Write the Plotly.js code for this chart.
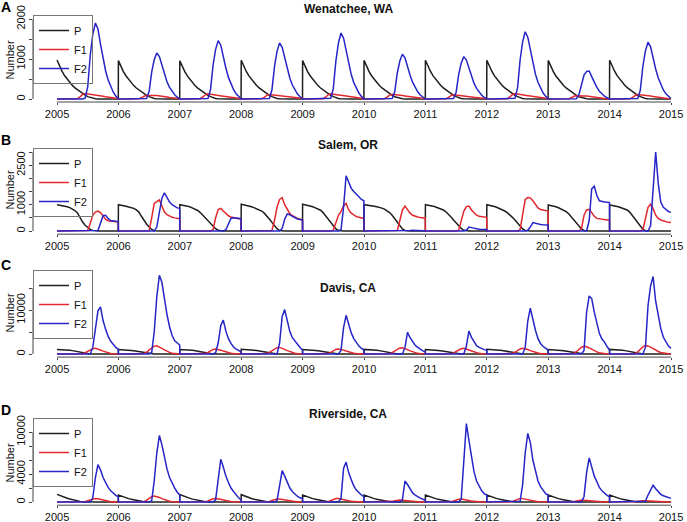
<!DOCTYPE html>
<html><head><meta charset="utf-8">
<script src="https://cdn.plot.ly/plotly-3.0.1.min.js"></script>
<style>html,body{margin:0;padding:0;background:#fff}#chart{width:687px;height:522px}</style>
</head><body><div id="chart"></div>
<script>
// ---- sampling grid (fraction of each year) ----
const years = [2005,2006,2007,2008,2009,2010,2011,2012,2013,2014];
const yearFrac = [0,0.042,0.083,0.125,0.167,0.208,0.25,0.292,0.333,0.375,0.417,0.458,0.5,0.542,0.583,0.625,0.667,0.708,0.75,0.792,0.833,0.875,0.917,0.958,0.998];
const xTickYears = [2005,2006,2007,2008,2009,2010,2011,2012,2013,2014,2015];
const seriesNames = ['P','F1','F2'];
const panelTitles = ['Wenatchee, WA','Salem, OR','Davis, CA','Riverside, CA'];
const panelLetters = ['A','B','C','D'];
const yLabel = 'Number';

// ---- Wenatchee, WA ----
const wenP = [
[975,820,690,580,490,410,340,280,230,180,135,95,60,35,15,5,0,0,0,0,0,0,0,0,0],
[960,810,680,575,485,405,335,275,225,178,133,93,58,33,14,5,0,0,0,0,0,0,0,0,0],
[955,805,678,572,482,402,333,273,223,176,132,92,58,33,14,5,0,0,0,0,0,0,0,0,0],
[970,815,688,578,488,408,338,278,228,180,134,94,59,34,15,5,0,0,0,0,0,0,0,0,0],
[960,810,680,575,485,405,335,275,225,178,133,93,58,33,14,5,0,0,0,0,0,0,0,0,0],
[965,812,684,576,486,406,336,276,226,179,134,93,58,34,14,5,0,0,0,0,0,0,0,0,0],
[970,815,688,578,488,408,338,278,228,180,134,94,59,34,15,5,0,0,0,0,0,0,0,0,0],
[970,815,688,578,488,408,338,278,228,180,134,94,59,34,15,5,0,0,0,0,0,0,0,0,0],
[965,812,684,576,486,406,336,276,226,179,134,93,58,34,14,5,0,0,0,0,0,0,0,0,0],
[970,815,688,578,488,408,338,278,228,180,134,94,59,34,15,5,0,0,0,0,0,0,0,0,0]
];
const wenF1 = [
[0,0,0,0,0,0,0,0,10,55,115,140,132,120,108,98,88,78,68,56,44,32,20,10,4],
[0,0,0,0,0,0,0,0,5,30,70,85,90,90,88,85,80,72,62,50,38,27,17,8,3],
[0,0,0,0,0,0,0,0,8,50,105,130,125,112,100,90,80,70,60,50,40,30,18,9,4],
[0,0,0,0,0,0,0,0,6,40,90,115,110,100,92,84,75,66,57,47,37,27,17,8,3],
[0,0,0,0,0,0,0,0,8,48,105,130,126,114,102,92,82,72,62,51,40,29,18,9,4],
[0,0,0,0,0,0,0,0,7,45,98,120,115,104,94,85,76,67,58,48,38,28,17,8,3],
[0,0,0,0,0,0,0,0,6,38,85,105,100,92,84,76,68,60,52,43,34,25,15,7,3],
[0,0,0,0,0,0,0,0,9,52,110,135,128,116,104,94,84,74,64,52,41,30,19,9,4],
[0,0,0,0,0,0,0,0,5,30,68,82,85,82,78,74,68,60,52,43,34,25,15,7,3],
[0,0,0,0,0,0,0,0,6,40,88,110,106,98,90,82,74,65,56,46,36,26,16,8,3]
];
const wenF2 = [
[0,0,0,0,0,0,0,0,0,0,0,20,300,1100,1620,1900,1750,1370,1000,700,475,300,170,75,20],
[0,0,0,0,0,0,0,0,0,0,0,12,185,670,980,1150,1060,830,610,425,290,185,105,45,12],
[0,0,0,0,0,0,0,0,0,0,0,15,235,850,1240,1460,1345,1050,775,540,365,235,130,60,15],
[0,0,0,0,0,0,0,0,0,0,0,14,225,810,1190,1400,1290,1010,740,520,350,225,125,55,14],
[0,0,0,0,0,0,0,0,0,0,0,16,265,955,1400,1650,1520,1190,875,610,410,265,150,65,16],
[0,0,0,0,0,0,0,0,0,0,0,11,180,650,950,1120,1030,805,595,415,280,180,100,45,11],
[0,0,0,0,0,0,0,0,0,0,0,11,170,615,900,1060,975,765,560,390,265,170,95,42,11],
[0,0,0,0,0,0,0,0,0,0,0,17,270,975,1430,1680,1545,1210,890,620,420,270,150,67,17],
[0,0,0,0,0,0,0,0,0,0,0,7,110,400,600,690,700,560,410,290,195,125,70,30,7],
[0,0,0,0,0,0,0,0,0,0,0,14,225,825,1205,1420,1305,1020,750,525,355,225,128,57,14]
];

// ---- Salem, OR ----
const salP = [
[1000,985,960,940,920,890,840,780,690,500,340,220,130,60,25,5,0,0,0,0,0,0,0,0,0],
[1000,985,965,940,910,885,860,800,720,560,400,270,150,60,15,0,0,0,0,0,0,0,0,0,0],
[1000,990,970,945,915,880,835,780,700,600,490,380,280,180,90,30,5,0,0,0,0,0,0,0,0],
[1020,1000,975,950,920,890,850,810,760,680,580,460,330,200,90,20,0,0,0,0,0,0,0,0,0],
[1020,1000,975,950,920,880,840,790,700,580,460,340,200,80,20,0,0,0,0,0,0,0,0,0,0],
[1000,990,975,960,940,920,900,870,830,780,700,600,470,330,200,80,20,0,0,0,0,0,0,0,0],
[1000,990,970,945,915,880,840,800,730,640,530,420,310,200,100,30,0,0,0,0,0,0,0,0,0],
[1000,985,960,930,895,855,810,760,700,620,520,420,300,180,80,20,0,0,0,0,0,0,0,0,0],
[990,975,950,920,885,845,800,740,660,540,420,320,200,80,20,0,0,0,0,0,0,0,0,0,0],
[990,980,960,935,905,870,830,790,700,560,430,320,190,70,10,0,0,0,0,0,0,0,0,0,0]
];
const salF1 = [
[0,0,0,0,0,0,0,0,0,0,0,0,20,300,600,720,760,700,560,440,390,370,360,355,350],
[0,0,0,0,0,0,0,0,0,0,0,0,10,500,1050,1120,1180,950,720,620,560,520,500,480,470],
[0,0,0,0,0,0,0,0,0,0,0,0,0,50,500,820,860,760,650,580,530,500,480,470,460],
[0,0,0,0,0,0,0,0,0,0,0,0,20,400,900,1200,1270,1000,800,660,580,520,480,450,430],
[0,0,0,0,0,0,0,0,0,0,0,0,30,350,600,750,950,1050,800,680,600,550,520,500,480],
[0,0,0,0,0,0,0,0,0,0,0,0,0,20,400,800,950,820,680,600,560,530,510,500,490],
[0,0,0,0,0,0,0,0,0,0,0,0,0,30,400,750,930,950,800,680,600,560,540,530,520],
[0,0,0,0,0,0,0,0,0,0,0,0,0,50,700,1200,1270,1260,1150,1000,880,820,790,770,760],
[0,0,0,0,0,0,0,0,0,0,0,0,0,100,600,800,820,700,560,480,460,440,430,420,420],
[0,0,0,0,0,0,0,0,0,0,0,0,0,50,500,900,1020,850,600,480,420,380,350,330,320]
];
const salF2 = [
[0,0,0,0,0,0,0,0,0,0,0,0,0,0,0,0,20,300,580,600,470,400,380,370,360],
[0,0,0,0,0,0,0,0,0,0,0,0,0,0,0,150,800,1250,1450,1250,1100,1000,930,880,860],
[0,0,0,0,0,0,0,0,0,0,0,0,0,0,0,0,0,0,50,300,480,500,490,480,470],
[0,0,0,0,0,0,0,0,0,0,0,0,0,0,0,0,100,450,650,620,560,500,460,440,420],
[0,0,0,0,0,0,0,0,0,0,0,0,0,0,0,50,900,2100,1850,1620,1500,1400,1300,1200,1150],
[0,0,0,0,0,0,0,0,0,0,0,0,0,0,0,0,0,10,20,30,20,15,10,10,10],
[0,0,0,0,0,0,0,0,0,0,0,0,0,0,0,0,30,150,130,100,80,70,60,60,60],
[0,0,0,0,0,0,0,0,0,0,0,0,0,0,0,0,30,150,320,290,260,250,240,235,230],
[0,0,0,0,0,0,0,0,0,0,0,0,0,0,0,0,400,1600,1700,1350,1150,1110,1100,1090,1080],
[0,0,0,0,0,0,0,0,0,0,0,0,0,0,0,0,200,1800,3000,1800,1100,900,800,740,710]
];

// ---- Davis, CA ----
const davP = [
[1050,1040,1010,970,920,850,770,670,550,400,250,120,40,0,0,0,0,0,0,0,0,0,0,0,0],
[1000,990,960,920,870,810,740,650,540,400,250,120,40,0,0,0,0,0,0,0,0,0,0,0,0],
[1020,1010,980,940,890,830,760,660,550,410,260,120,40,0,0,0,0,0,0,0,0,0,0,0,0],
[1070,1060,1030,990,940,870,790,690,570,420,260,130,40,0,0,0,0,0,0,0,0,0,0,0,0],
[1000,990,960,920,870,810,740,650,540,400,250,120,40,0,0,0,0,0,0,0,0,0,0,0,0],
[1050,1040,1010,970,920,850,770,670,550,400,250,120,40,0,0,0,0,0,0,0,0,0,0,0,0],
[1000,990,960,920,870,810,740,650,540,400,250,120,40,0,0,0,0,0,0,0,0,0,0,0,0],
[1070,1060,1030,990,940,870,790,690,570,420,260,130,40,0,0,0,0,0,0,0,0,0,0,0,0],
[1000,990,960,920,870,810,740,650,540,400,250,120,40,0,0,0,0,0,0,0,0,0,0,0,0],
[1050,1040,1010,970,920,850,770,670,550,400,250,120,40,0,0,0,0,0,0,0,0,0,0,0,0]
];
const davF1 = [
[0,0,0,0,0,0,0,0,0,0,80,300,650,1000,1220,1290,1150,900,650,430,260,140,70,30,10],
[0,0,0,0,0,0,0,0,0,0,120,430,950,1450,1800,1880,1650,1300,950,620,380,200,100,40,15],
[0,0,0,0,0,0,0,0,0,0,100,380,750,1050,1140,1050,880,680,480,310,180,100,50,20,8],
[0,0,0,0,0,0,0,0,0,0,100,380,780,1180,1450,1500,1330,1050,760,500,300,160,80,35,12],
[0,0,0,0,0,0,0,0,0,0,90,360,740,1040,1130,1060,890,690,490,320,190,100,50,20,8],
[0,0,0,0,0,0,0,0,0,0,80,330,700,1100,1380,1440,1280,1000,720,480,290,150,75,30,10],
[0,0,0,0,0,0,0,0,0,0,60,260,600,960,1200,1290,1180,930,680,450,270,150,70,30,10],
[0,0,0,0,0,0,0,0,0,0,110,400,800,1150,1290,1220,1020,780,560,370,220,120,60,25,10],
[0,0,0,0,0,0,0,0,0,0,140,520,1080,1550,1740,1650,1380,1050,750,490,300,160,80,35,12],
[0,0,0,0,0,0,0,0,0,0,130,500,1100,1620,1870,1850,1580,1220,870,570,350,190,90,40,15]
];
const davF2 = [
[0,0,0,0,0,0,0,0,0,0,0,0,0,0,1500,5500,9800,10700,7600,5600,4000,2900,2100,1500,1100],
[0,0,0,0,0,0,0,0,0,0,0,0,0,300,5000,13000,17900,16300,12500,8900,6200,4200,3000,2400,2050],
[0,0,0,0,0,0,0,0,0,0,0,0,0,0,300,2500,6500,7700,5200,3500,2400,1600,1100,750,520],
[0,0,0,0,0,0,0,0,0,0,0,0,0,0,0,2500,8500,10100,7200,5100,3700,2900,2300,1500,900],
[0,0,0,0,0,0,0,0,0,0,0,0,0,0,0,800,6000,8800,6600,4800,3500,2500,1800,1300,900],
[0,0,0,0,0,0,0,0,0,0,0,0,0,0,0,0,1500,4900,3700,2700,2000,1500,1000,700,520],
[0,0,0,0,0,0,0,0,0,0,0,0,0,0,0,0,1800,5200,3800,2700,1900,1500,1200,1000,910],
[0,0,0,0,0,0,0,0,0,0,0,0,0,0,0,1500,7500,10400,7500,5400,3500,2400,1700,1200,910],
[0,0,0,0,0,0,0,0,0,0,0,0,0,0,800,9500,13200,12600,9500,6800,4700,3400,2700,1700,910],
[0,0,0,0,0,0,0,0,0,0,0,0,0,0,1500,11000,15500,17600,12000,8800,5800,3800,2600,1800,1290]
];

// ---- Riverside, CA ----
const rivP = [
[1100,930,790,660,540,430,330,240,160,95,45,15,0,0,0,0,0,0,0,0,0,0,0,0,0],
[1000,850,720,600,490,390,300,220,150,90,45,15,0,0,0,0,0,0,0,0,0,0,0,0,0],
[1060,900,760,635,520,415,320,230,155,92,45,15,0,0,0,0,0,0,0,0,0,0,0,0,0],
[1050,895,755,630,515,410,318,228,154,92,45,15,0,0,0,0,0,0,0,0,0,0,0,0,0],
[1000,850,720,600,490,390,300,220,150,90,45,15,0,0,0,0,0,0,0,0,0,0,0,0,0],
[1000,850,720,600,490,390,300,220,150,90,45,15,0,0,0,0,0,0,0,0,0,0,0,0,0],
[1000,850,720,600,490,390,300,220,150,90,45,15,0,0,0,0,0,0,0,0,0,0,0,0,0],
[1000,850,720,600,490,390,300,220,150,90,45,15,0,0,0,0,0,0,0,0,0,0,0,0,0],
[1000,850,720,600,490,390,300,220,150,90,45,15,0,0,0,0,0,0,0,0,0,0,0,0,0],
[1000,850,720,600,490,390,300,220,150,90,45,15,0,0,0,0,0,0,0,0,0,0,0,0,0]
];
const rivF1 = [
[0,0,0,0,0,0,0,0,0,0,10,60,180,320,450,520,480,380,260,160,90,45,20,8,0],
[0,0,0,0,0,0,0,0,0,0,60,250,550,780,860,800,660,490,330,200,110,55,25,10,0],
[0,0,0,0,0,0,0,0,0,0,40,150,320,460,520,490,400,300,200,120,65,30,15,5,0],
[0,0,0,0,0,0,0,0,0,0,20,90,220,340,420,430,370,280,190,120,65,30,15,5,0],
[0,0,0,0,0,0,0,0,0,0,50,180,380,510,520,460,370,270,180,110,60,30,15,5,0],
[0,0,0,0,0,0,0,0,0,0,30,100,200,280,300,270,220,160,110,70,40,20,10,5,0],
[0,0,0,0,0,0,0,0,0,0,40,150,300,410,430,390,310,230,150,90,50,25,10,5,0],
[0,0,0,0,0,0,0,0,0,0,80,260,450,520,490,410,320,230,150,90,50,25,10,5,0],
[0,0,0,0,0,0,0,0,0,0,50,150,250,290,270,230,180,130,90,55,30,15,8,3,0],
[0,0,0,0,0,0,0,0,0,0,30,100,165,190,180,150,120,90,60,35,20,10,5,2,0]
];
const rivF2 = [
[0,0,0,0,0,0,0,0,0,0,0,0,0,0,600,3500,5350,4600,3500,2700,2100,1600,1250,950,760],
[0,0,0,0,0,0,0,0,0,0,0,0,0,200,3000,7000,9500,8200,6200,4700,3500,2700,2000,1400,1000],
[0,0,0,0,0,0,0,0,0,0,0,0,0,0,300,3500,6100,5000,3700,2800,2000,1500,1000,600,300],
[0,0,0,0,0,0,0,0,0,0,0,0,0,0,200,2500,4500,3700,2700,2000,1500,1100,800,600,520],
[0,0,0,0,0,0,0,0,0,0,0,0,0,0,0,500,4800,5700,4200,3200,2300,1700,1300,1000,760],
[0,0,0,0,0,0,0,0,0,0,0,0,0,0,0,300,3000,2500,1800,1300,1000,750,550,400,290],
[0,0,0,0,0,0,0,0,0,0,0,0,0,0,400,6000,11200,8800,6200,4300,3000,2200,1600,1200,1000],
[0,0,0,0,0,0,0,0,0,0,0,0,0,100,2500,7000,9800,8500,6000,4300,3000,2200,1600,1200,1000],
[0,0,0,0,0,0,0,0,0,0,0,0,0,0,800,4200,6300,5000,3700,2900,2100,1600,1250,950,760],
[0,0,0,0,0,0,0,0,0,0,0,0,0,0,100,1000,1800,2400,1900,1500,1100,900,750,620,520]
];

// ---- axis ticks ----
const yTickVals = [
  [0,500,1000,1500,2000],
  [0,500,1000,1500,2000,2500,3000],
  [0,5000,10000,15000],
  [0,2000,4000,6000,8000,10000]
];
const yTickText = [
  ['0','','1000','','2000'],
  ['0','','1000','','','2500',''],
  ['0','','10000',''],
  ['0','','4000','','','10000']
];

// ---- drawing ----
const W = 687, H = 522;
const colors = ['#1e1e1e', '#e2282d', '#2525c8'];
const panelData = [[wenP, wenF1, wenF2],[salP, salF1, salF2],[davP, davF1, davF2],[rivP, rivF1, rivF2]];
// layout geometry (pixels): plot bottom/top, y range, legend top, title y, letter y, ylab y
const geom = [
  {bot:102,   top:19,    range:[-75,2000],   leg:15,  title:8.5, letter:7,   ylab:60},
  {bot:234.2, top:149.4, range:[-120,3100],  leg:148, title:145, letter:140, ylab:190},
  {bot:357.1, top:272.6, range:[-700,18500], leg:270, title:288, letter:265, ylab:313},
  {bot:505.2, top:420.8, range:[-450,11600], leg:418, title:414, letter:410, ylab:463}
];
const axLeft = 33;
const t = years.flatMap(y => yearFrac.map(f => y + f));
const font = 'Liberation Sans, Arial, Helvetica, sans-serif';

const traces = [];
const layout = {
  width: W, height: H, margin: {l:0, r:0, t:0, b:0},
  paper_bgcolor: '#fff', plot_bgcolor: '#fff',
  font: {family: font, size: 11, color: '#111'},
  showlegend: true, hovermode: false,
  shapes: [], annotations: []
};

panelData.forEach((series, i) => {
  const s = i === 0 ? '' : String(i + 1);
  const g = geom[i];
  series.forEach((rows, j) => {
    traces.push({
      x: t, y: rows.flat(), type: 'scatter', mode: 'lines',
      name: seriesNames[j], line: {color: colors[j], width: 1.5},
      xaxis: 'x' + s, yaxis: 'y' + s, legend: 'legend' + s, hoverinfo: 'skip'
    });
  });
  layout['xaxis' + s] = {
    domain: [axLeft / W, 1], range: [2004.609, 2015.26], anchor: 'y' + s,
    tickmode: 'array', tickvals: xTickYears, ticktext: xTickYears.map(String),
    ticks: 'outside', ticklen: 2, tickcolor: '#444', showgrid: false, zeroline: false,
    showline: false, tickfont: {size: 11, color: '#111', family: font}, fixedrange: true
  };
  layout['yaxis' + s] = {
    domain: [1 - g.bot / H, 1 - g.top / H], range: g.range, anchor: 'x' + s,
    tickmode: 'array', tickvals: yTickVals[i], ticktext: yTickText[i], tickangle: -90,
    ticks: 'outside', ticklen: 3, tickcolor: '#444', showgrid: false, zeroline: false,
    showline: false, tickfont: {size: 11, color: '#111', family: font}, fixedrange: true
  };
  layout['legend' + s] = {
    x: axLeft / W, y: 1 - g.leg / H, xanchor: 'left', yanchor: 'top',
    bordercolor: '#777', borderwidth: 1, bgcolor: 'rgba(255,255,255,0)',
    font: {size: 11, color: '#111', family: font}, tracegroupgap: 0
  };
  // axis lines spanning first to last tick
  layout.shapes.push({type:'line', xref:'x' + s, yref:'paper', x0: xTickYears[0], x1: xTickYears[xTickYears.length-1],
    y0: 1 - g.bot / H, y1: 1 - g.bot / H, line: {color:'#444', width:1}});
  const yt = yTickVals[i];
  layout.shapes.push({type:'line', xref:'paper', yref:'y' + s, x0: axLeft / W, x1: axLeft / W,
    y0: yt[0], y1: yt[yt.length-1], line: {color:'#444', width:1}});
  layout.annotations.push({xref:'paper', yref:'paper', x: 348 / W, y: 1 - g.title / H,
    text: '<b>' + panelTitles[i] + '</b>', showarrow: false, xanchor:'center', yanchor:'middle',
    font: {size: 12, color:'#111', family: font}});
  layout.annotations.push({xref:'paper', yref:'paper', x: 6 / W, y: 1 - g.letter / H,
    text: '<b>' + panelLetters[i] + '</b>', showarrow: false, xanchor:'center', yanchor:'middle',
    font: {size: 14, color:'#000', family: font}});
  layout.annotations.push({xref:'paper', yref:'paper', x: 9.5 / W, y: 1 - g.ylab / H,
    text: yLabel, textangle: -90, showarrow: false, xanchor:'center', yanchor:'middle',
    font: {size: 11, color:'#111', family: font}});
});

Plotly.newPlot('chart', traces, layout, {staticPlot: true, displayModeBar: false});
</script>
</body></html>
